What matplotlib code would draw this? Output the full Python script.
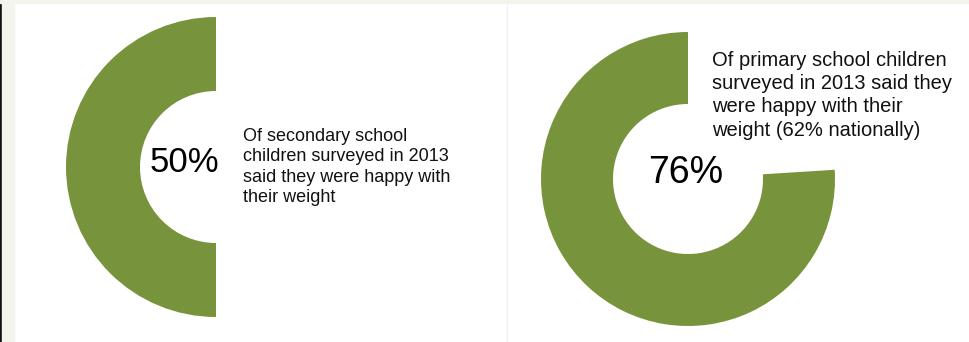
import matplotlib.pyplot as plt
from matplotlib.patches import Rectangle

plt.rcParams['font.family'] = ['Liberation Sans', 'DejaVu Sans']

green = '#77933c'

# share of children happy with their weight
secondary_pct = 50
primary_pct = 76

secondary_text = "Of secondary school\nchildren surveyed in 2013\nsaid they were happy with\ntheir weight"
primary_text = "Of primary school children\nsurveyed in 2013 said they\nwere happy with their\nweight (62% nationally)"

fig = plt.figure(figsize=(9.69, 3.42), dpi=100)
ax = fig.add_axes([0, 0, 1, 1])
ax.set_xlim(0, 969)
ax.set_ylim(0, 342)
ax.set_aspect('equal')
ax.axis('off')

# page edges
ax.add_patch(Rectangle((0, 0), 2, 342, color='#111111', zorder=0))
ax.add_patch(Rectangle((2, 0), 12, 342, color='#f3f5ec', zorder=0))
ax.add_patch(Rectangle((0, 339), 969, 3, color='#f3f5ec', zorder=0))
ax.plot([507, 507], [0, 339], color='#f2f2f2', lw=1, zorder=0)

# secondary donut
ax.pie([secondary_pct, 100 - secondary_pct], colors=[green, 'none'],
       startangle=90, counterclock=True, center=(216, 175), radius=150,
       wedgeprops=dict(width=74, linewidth=0), frame=True)
ax.text(184, 180, f"{secondary_pct}%", fontsize=25, ha='center', va='center')
ax.text(243, 214, secondary_text, fontsize=13, ha='left', va='top',
        linespacing=1.25, color='#111111')

# primary donut
ax.pie([primary_pct, 100 - primary_pct], colors=[green, 'none'],
       startangle=90, counterclock=True, center=(688, 163), radius=147,
       wedgeprops=dict(width=72, linewidth=0), frame=True)
ax.text(686, 169, f"{primary_pct}%", fontsize=27, ha='center', va='center')
ax.text(712, 291, primary_text, fontsize=14.5, ha='left', va='top',
        linespacing=1.28, color='#111111')

ax.set_xlim(0, 969)
ax.set_ylim(0, 342)
ax.axis('off')

fig.savefig('out.png', dpi=100)
